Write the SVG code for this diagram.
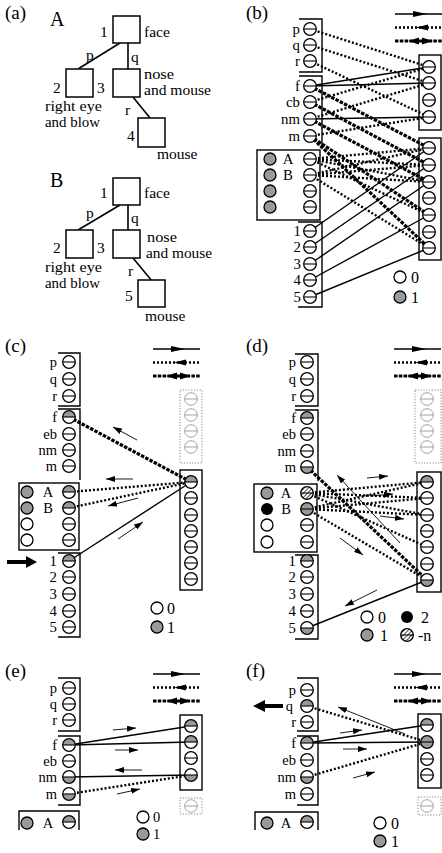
<svg xmlns="http://www.w3.org/2000/svg" width="442" height="853" viewBox="0 0 442 853">
<style>
text{font-family:"Liberation Serif","Times New Roman",serif;fill:#000}
.lb{font-size:15.5px}
.l2{font-size:14.4px}
.pl{font-size:19px}
.big{font-size:20px}
.b{font-size:14.8px}
.s{font-size:14.5px}
.n{font-size:14.8px}
.k{font-size:16px}
.e{text-anchor:end}
.bx{fill:#fff;stroke:#000;stroke-width:1.5}
.br{fill:none;stroke:#000;stroke-width:1.4}
.db{fill:none;stroke:#888;stroke-width:1;stroke-dasharray:1.2 1.6}
.o{fill:none;stroke:#000;stroke-width:1.3}
.fo{fill:none;stroke:#999;stroke-width:0.9}
.ml{stroke:#000;stroke-width:1.1}
.so{stroke:#000;stroke-width:1.4;fill:none}
.dt{stroke:#000;stroke-width:2.4;stroke-dasharray:2 2;fill:none}
.ch{stroke:#000;stroke-width:3.2;stroke-dasharray:3.5 1.3;fill:none}
.ar{stroke:#000;stroke-width:0.9;fill:none;marker-end:url(#ah)}
.ed{stroke:#000;stroke-width:1.6}
.gr{fill:#999}
</style>
<defs>
<marker id="ah" viewBox="0 0 9 6" refX="9" refY="3" markerWidth="9" markerHeight="6" markerUnits="userSpaceOnUse" orient="auto"><path d="M0,0L9,3L0,6z" fill="#000"/></marker>
<pattern id="hat" width="3" height="3" patternUnits="userSpaceOnUse" patternTransform="rotate(45)"><rect width="3" height="3" fill="#fff"/><line x1="0" y1="0" x2="0" y2="3" stroke="#000" stroke-width="1.4"/></pattern>
<g id="u"><circle r="6.3" fill="#fff"/><circle r="6.3" class="o"/><line class="ml" x1="-6.3" x2="6.3" y1="0" y2="0"/></g>
<g id="uT"><circle r="6.3" fill="#fff"/><path d="M-6.3,0A6.3,6.3 0 0 1 6.3,0Z" class="gr"/><circle r="6.3" class="o"/><line class="ml" x1="-6.3" x2="6.3" y1="0" y2="0"/></g>
<g id="uB"><circle r="6.3" fill="#fff"/><path d="M-6.3,0A6.3,6.3 0 0 0 6.3,0Z" class="gr"/><circle r="6.3" class="o"/><line class="ml" x1="-6.3" x2="6.3" y1="0" y2="0"/></g>
<g id="uG"><circle r="6.3" class="gr"/><circle r="6.3" class="o"/><line class="ml" x1="-6.3" x2="6.3" y1="0" y2="0"/></g>
<g id="uH"><circle r="6.3" fill="url(#hat)"/><circle r="6.3" class="o"/><line class="ml" x1="-6.3" x2="6.3" y1="0" y2="0"/></g>
<g id="uF"><circle r="6.3" fill="#fff" class="fo"/><line class="fo" x1="-6.3" x2="6.3" y1="0" y2="0"/></g>
<g id="dG"><circle r="6" class="gr"/><circle r="6" class="o"/></g>
<g id="dW"><circle r="6" fill="#fff"/><circle r="6" class="o"/></g>
<g id="dK"><circle r="6" fill="#000"/></g>
<g id="leg">
<line x1="0" y1="0" x2="47" y2="0" class="so"/><path d="M18,-3L32,0L18,3z"/>
<line x1="0" y1="13.5" x2="47" y2="13.5" class="dt"/><path d="M21,13.5L33,10.5L33,16.5z"/>
<line x1="0" y1="27" x2="47" y2="27" class="ch"/><path d="M13,27L24,23.5L24,30.5z"/><path d="M38,27L27,23.5L27,30.5z"/>
</g>
</defs>

<!-- Panel (a) -->
<g id="panel-a">
<text x="5" y="19" class="pl">(a)</text>
<text x="50" y="26" class="big">A</text>
<g id="a-edges">
<line x1="120" y1="43" x2="78" y2="69" class="ed"/>
<line x1="128" y1="43" x2="128" y2="69" class="ed"/>
<line x1="133" y1="97" x2="150" y2="118" class="ed"/>
<text x="86" y="60" class="lb">p</text>
<text x="131" y="62" class="lb">q</text>
<text x="125" y="115" class="lb">r</text>
</g>
<g id="a-n1"><rect x="113" y="16" width="27" height="27" class="bx"/><text x="100" y="37" class="lb">1</text><text x="144" y="37" class="lb">face</text></g>
<g id="a-n2"><rect x="66" y="69" width="27" height="28" class="bx"/><text x="53" y="93" class="lb">2</text><text x="45" y="111" class="l2" textLength="57" lengthAdjust="spacingAndGlyphs">right eye</text><text x="45" y="127" class="l2" textLength="55" lengthAdjust="spacingAndGlyphs">and blow</text></g>
<g id="a-n3"><rect x="113" y="69" width="27" height="28" class="bx"/><text x="97" y="93" class="lb">3</text><text x="144" y="79" class="l2" textLength="30" lengthAdjust="spacingAndGlyphs">nose</text><text x="144" y="95" class="l2" textLength="67" lengthAdjust="spacingAndGlyphs">and mouse</text></g>
<g id="a-n4"><rect x="138" y="118" width="27" height="29" class="bx"/><text x="127" y="141" class="lb">4</text><text x="157" y="159" class="lb">mouse</text></g>

<text x="50" y="187" class="big">B</text>
<g id="b-edges">
<line x1="120" y1="205" x2="78" y2="230" class="ed"/>
<line x1="128" y1="205" x2="128" y2="230" class="ed"/>
<line x1="133" y1="258" x2="152" y2="281" class="ed"/>
<text x="86" y="218" class="lb">p</text>
<text x="131" y="223" class="lb">q</text>
<text x="128" y="276" class="lb">r</text>
</g>
<g id="bt-n1"><rect x="113" y="178" width="27" height="27" class="bx"/><text x="100" y="198" class="lb">1</text><text x="144" y="198" class="lb">face</text></g>
<g id="bt-n2"><rect x="66" y="230" width="27" height="28" class="bx"/><text x="53" y="253" class="lb">2</text><text x="45" y="272" class="l2" textLength="57" lengthAdjust="spacingAndGlyphs">right eye</text><text x="45" y="288" class="l2" textLength="55" lengthAdjust="spacingAndGlyphs">and blow</text></g>
<g id="bt-n3"><rect x="113" y="230" width="27" height="28" class="bx"/><text x="97" y="253" class="lb">3</text><text x="147" y="242" class="l2" textLength="30" lengthAdjust="spacingAndGlyphs">nose</text><text x="146" y="258" class="l2" textLength="66" lengthAdjust="spacingAndGlyphs">and mouse</text></g>
<g id="bt-n5"><rect x="138" y="280" width="27" height="27" class="bx"/><text x="125" y="301" class="lb">5</text><text x="145" y="321" class="lb">mouse</text></g>
</g>

<!-- Panel (b) -->
<g id="panel-b">
<text x="246" y="19" class="pl">(b)</text>
<use href="#leg" x="395" y="14"/>
<g id="b-conn">
<line x1="310" y1="29" x2="429" y2="67" class="dt"/>
<line x1="310" y1="45" x2="429" y2="83" class="dt"/>
<line x1="310" y1="61" x2="429" y2="117" class="dt"/>
<line x1="310" y1="102" x2="429" y2="67" class="dt"/>
<line x1="310" y1="119" x2="429" y2="83" class="dt"/>
<line x1="310" y1="136" x2="429" y2="117" class="dt"/>
<line x1="310" y1="159" x2="429" y2="148" class="dt"/>
<line x1="310" y1="159" x2="429" y2="165" class="dt"/>
<line x1="310" y1="159" x2="429" y2="182" class="dt"/>
<line x1="310" y1="159" x2="429" y2="215" class="dt"/>
<line x1="310" y1="175" x2="429" y2="148" class="dt"/>
<line x1="310" y1="175" x2="429" y2="165" class="dt"/>
<line x1="310" y1="175" x2="429" y2="182" class="dt"/>
<line x1="310" y1="175" x2="429" y2="248" class="dt"/>
<line x1="310" y1="86" x2="429" y2="67" class="so"/>
<line x1="310" y1="86" x2="429" y2="83" class="so"/>
<line x1="310" y1="119" x2="429" y2="117" class="so"/>
<line x1="310" y1="231" x2="429" y2="148" class="so"/>
<line x1="310" y1="247" x2="429" y2="165" class="so"/>
<line x1="310" y1="264" x2="429" y2="182" class="so"/>
<line x1="310" y1="280" x2="429" y2="215" class="so"/>
<line x1="310" y1="297" x2="429" y2="248" class="so"/>
<line x1="310" y1="86" x2="429" y2="148" class="ch"/>
<line x1="310" y1="102" x2="429" y2="165" class="ch"/>
<line x1="310" y1="119" x2="429" y2="182" class="ch"/>
<line x1="310" y1="136" x2="429" y2="215" class="ch"/>
<line x1="310" y1="136" x2="429" y2="248" class="ch"/>
</g>
<g id="b-pqr">
<path d="M299,19H322V72H299" class="br"/>
<text x="300" y="34" class="b e">p</text><text x="300" y="50" class="b e">q</text><text x="300" y="66" class="b e">r</text>
<use href="#u" x="310" y="29"/><use href="#u" x="310" y="45"/><use href="#u" x="310" y="61"/>
</g>
<g id="b-feat">
<path d="M299,76H322V147" class="br"/>
<text x="300" y="91" class="b e">f</text><text x="300" y="107" class="b e">cb</text><text x="300" y="124" class="b e">nm</text><text x="300" y="141" class="b e">m</text>
<use href="#u" x="310" y="86"/><use href="#u" x="310" y="102"/><use href="#u" x="310" y="119"/><use href="#u" x="310" y="136"/>
</g>
<g id="b-tree">
<rect x="257" y="150" width="63" height="70" class="br"/>
<use href="#dG" x="270" y="159"/><use href="#dG" x="270" y="175"/><use href="#dG" x="270" y="191"/><use href="#dG" x="270" y="207"/>
<text x="288" y="164" class="b" text-anchor="middle">A</text><text x="288" y="180" class="b" text-anchor="middle">B</text>
<use href="#u" x="310" y="159"/><use href="#u" x="310" y="175"/><use href="#u" x="310" y="191"/><use href="#u" x="310" y="207"/>
</g>
<g id="b-num">
<path d="M298,222H322V307H298" class="br"/>
<text x="301" y="236" class="n e">1</text><text x="301" y="252" class="n e">2</text><text x="301" y="269" class="n e">3</text><text x="301" y="285" class="n e">4</text><text x="301" y="302" class="n e">5</text>
<use href="#u" x="310" y="231"/><use href="#u" x="310" y="247"/><use href="#u" x="310" y="264"/><use href="#u" x="310" y="280"/><use href="#u" x="310" y="297"/>
</g>
<g id="b-rel">
<rect x="419" y="55" width="22" height="75" class="br"/>
<use href="#u" x="429" y="67"/><use href="#u" x="429" y="83"/><use href="#u" x="429" y="100"/><use href="#u" x="429" y="117"/>
</g>
<g id="b-hid">
<rect x="419" y="138" width="22" height="122" class="br"/>
<use href="#u" x="429" y="148"/><use href="#u" x="429" y="165"/><use href="#u" x="429" y="182"/><use href="#u" x="429" y="198"/><use href="#u" x="429" y="215"/><use href="#u" x="429" y="232"/><use href="#u" x="429" y="248"/>
</g>
<g id="b-key">
<use href="#dW" x="400" y="277"/><text x="411" y="282.5" class="k">0</text>
<use href="#dG" x="400" y="297"/><text x="411" y="302.5" class="k">1</text>
</g>
</g>

<!-- Panel (c) -->
<g id="panel-c">
<text x="5" y="352" class="pl">(c)</text>
<use href="#leg" x="153" y="349"/>
<g id="c-conn">
<line x1="69" y1="417" x2="191" y2="482" class="ch"/>
<line x1="69" y1="492" x2="191" y2="482" class="dt"/>
<line x1="69" y1="508" x2="191" y2="482" class="dt"/>
<line x1="69" y1="561" x2="191" y2="482" class="so"/>
<line x1="137" y1="440" x2="113" y2="427" class="ar"/>
<line x1="133" y1="479" x2="106" y2="479" class="ar"/>
<line x1="138" y1="498" x2="108" y2="506" class="ar"/>
<line x1="118" y1="539" x2="143" y2="522" class="ar"/>
</g>
<g id="c-pqr">
<path d="M58,353H80V406H58" class="br"/>
<text x="57" y="367" class="s e">p</text><text x="57" y="384" class="s e">q</text><text x="57" y="401" class="s e">r</text>
<use href="#u" x="69" y="362"/><use href="#u" x="69" y="379"/><use href="#u" x="69" y="396"/>
</g>
<g id="c-feat">
<path d="M58,409H80V480" class="br"/>
<text x="57" y="422" class="s e">f</text><text x="57" y="439" class="s e">eb</text><text x="57" y="455" class="s e">nm</text><text x="57" y="471" class="s e">m</text>
<use href="#uT" x="69" y="417"/><use href="#u" x="69" y="434"/><use href="#u" x="69" y="450"/><use href="#u" x="69" y="466"/>
</g>
<g id="c-tree">
<rect x="19" y="483" width="60" height="67" class="br"/>
<use href="#dG" x="27" y="492"/><use href="#dG" x="27" y="508"/><use href="#dW" x="27" y="524"/><use href="#dW" x="27" y="540"/>
<text x="48" y="497" class="s" text-anchor="middle">A</text><text x="48" y="513" class="s" text-anchor="middle">B</text>
<use href="#uT" x="69" y="492"/><use href="#uT" x="69" y="508"/><use href="#u" x="69" y="524"/><use href="#u" x="69" y="540"/>
</g>
<g id="c-num">
<path d="M58,553H80V637H58" class="br"/>
<text x="57" y="566" class="n e">1</text><text x="57" y="582" class="n e">2</text><text x="57" y="599" class="n e">3</text><text x="57" y="616" class="n e">4</text><text x="57" y="632" class="n e">5</text>
<use href="#uT" x="69" y="561"/><use href="#u" x="69" y="577"/><use href="#u" x="69" y="594"/><use href="#u" x="69" y="611"/><use href="#u" x="69" y="627"/>
<path d="M7,560H26V556L37,562L26,568V564H7Z"/>
</g>
<g id="c-rel">
<rect x="180" y="390" width="22" height="73" class="db"/>
<use href="#uF" x="191" y="399"/><use href="#uF" x="191" y="415"/><use href="#uF" x="191" y="431"/><use href="#uF" x="191" y="447"/>
</g>
<g id="c-hid">
<rect x="180" y="470" width="22" height="120" class="br"/>
<use href="#uT" x="191" y="482"/><use href="#u" x="191" y="498"/><use href="#u" x="191" y="515"/><use href="#u" x="191" y="531"/><use href="#u" x="191" y="547"/><use href="#u" x="191" y="563"/><use href="#u" x="191" y="579"/>
</g>
<g id="c-key">
<use href="#dW" x="157" y="608"/><text x="167" y="613.5" class="k">0</text>
<use href="#dG" x="157" y="627"/><text x="167" y="632.5" class="k">1</text>
</g>
</g>

<!-- Panel (d) -->
<g id="panel-d">
<text x="246" y="352" class="pl">(d)</text>
<use href="#leg" x="394" y="349"/>
<g id="d-conn">
<line x1="307" y1="493" x2="427" y2="482" class="dt"/>
<line x1="307" y1="493" x2="427" y2="498" class="dt"/>
<line x1="307" y1="493" x2="427" y2="515" class="dt"/>
<line x1="307" y1="493" x2="427" y2="547" class="dt"/>
<line x1="307" y1="509" x2="427" y2="482" class="dt"/>
<line x1="307" y1="509" x2="427" y2="498" class="dt"/>
<line x1="307" y1="509" x2="427" y2="515" class="dt"/>
<line x1="307" y1="509" x2="427" y2="580" class="dt"/>
<line x1="307" y1="467" x2="427" y2="580" class="ch"/>
<line x1="427" y1="580" x2="307" y2="628" class="so"/>
<line x1="400" y1="543" x2="337" y2="475" class="ar"/>
<line x1="367" y1="478" x2="388" y2="476" class="ar"/>
<line x1="370" y1="496" x2="393" y2="494" class="ar"/>
<line x1="380" y1="516" x2="404" y2="519" class="ar"/>
<line x1="340" y1="538" x2="363" y2="555" class="ar"/>
<line x1="377" y1="590" x2="345" y2="606" class="ar"/>
</g>
<g id="d-pqr">
<path d="M295,354H318V406H295" class="br"/>
<text x="296" y="367" class="s e">p</text><text x="296" y="384" class="s e">q</text><text x="296" y="401" class="s e">r</text>
<use href="#u" x="307" y="362"/><use href="#u" x="307" y="379"/><use href="#u" x="307" y="396"/>
</g>
<g id="d-feat">
<path d="M295,410H318V481" class="br"/>
<text x="296" y="423" class="s e">f</text><text x="296" y="439" class="s e">eb</text><text x="296" y="456" class="s e">nm</text><text x="296" y="472" class="s e">m</text>
<use href="#uT" x="307" y="418"/><use href="#u" x="307" y="434"/><use href="#u" x="307" y="451"/><use href="#uB" x="307" y="467"/>
</g>
<g id="d-tree">
<rect x="254" y="484" width="63" height="68" class="br"/>
<use href="#dG" x="267" y="493"/><use href="#dK" x="267" y="509"/><use href="#dW" x="267" y="525"/><use href="#dW" x="267" y="542"/>
<text x="286" y="498" class="s" text-anchor="middle">A</text><text x="286" y="514" class="s" text-anchor="middle">B</text>
<use href="#uH" x="307" y="493"/><use href="#uG" x="307" y="509"/><use href="#u" x="307" y="525"/><use href="#u" x="307" y="542"/>
</g>
<g id="d-num">
<path d="M295,555H318V639H295" class="br"/>
<text x="296" y="566" class="n e">1</text><text x="296" y="582" class="n e">2</text><text x="296" y="599" class="n e">3</text><text x="296" y="616" class="n e">4</text><text x="296" y="633" class="n e">5</text>
<use href="#uT" x="307" y="561"/><use href="#u" x="307" y="577"/><use href="#u" x="307" y="594"/><use href="#u" x="307" y="611"/><use href="#uB" x="307" y="628"/>
</g>
<g id="d-rel">
<rect x="415" y="390" width="26" height="73" class="db"/>
<use href="#uF" x="427" y="399"/><use href="#uF" x="427" y="415"/><use href="#uF" x="427" y="431"/><use href="#uF" x="427" y="447"/>
</g>
<g id="d-hid">
<rect x="417" y="472" width="24" height="120" class="br"/>
<use href="#uT" x="427" y="482"/><use href="#u" x="427" y="498"/><use href="#u" x="427" y="515"/><use href="#u" x="427" y="531"/><use href="#u" x="427" y="547"/><use href="#u" x="427" y="564"/><use href="#uB" x="427" y="580"/>
</g>
<g id="d-key">
<use href="#dW" x="367" y="617"/><text x="378" y="622.5" class="k">0</text>
<use href="#dK" x="407" y="617"/><text x="421" y="622.5" class="k">2</text>
<use href="#dG" x="367" y="635"/><text x="380" y="640.5" class="k">1</text>
<use href="#uH" x="407" y="635"/><text x="418" y="640.5" class="k">-n</text>
</g>
</g>

<!-- Panel (e) -->
<g id="panel-e">
<text x="5" y="677" class="pl">(e)</text>
<use href="#leg" x="153" y="674"/>
<g id="e-conn">
<line x1="69" y1="745" x2="191" y2="726" class="so"/>
<line x1="69" y1="745" x2="191" y2="742" class="so"/>
<line x1="69" y1="777" x2="191" y2="775" class="so"/>
<line x1="69" y1="794" x2="191" y2="775" class="dt"/>
<line x1="113" y1="730" x2="136" y2="728" class="ar"/>
<line x1="115" y1="750" x2="138" y2="750" class="ar"/>
<line x1="142" y1="770" x2="115" y2="770" class="ar"/>
<line x1="117" y1="794" x2="140" y2="789" class="ar"/>
</g>
<g id="e-pqr">
<path d="M58,678H80V731H58" class="br"/>
<text x="57" y="693" class="s e">p</text><text x="57" y="709" class="s e">q</text><text x="57" y="725" class="s e">r</text>
<use href="#u" x="69" y="688"/><use href="#u" x="69" y="704"/><use href="#u" x="69" y="720"/>
</g>
<g id="e-feat">
<path d="M58,736H80V805H58" class="br"/>
<text x="57" y="750" class="s e">f</text><text x="57" y="766" class="s e">eb</text><text x="57" y="782" class="s e">nm</text><text x="57" y="799" class="s e">m</text>
<use href="#uT" x="69" y="745"/><use href="#u" x="69" y="761"/><use href="#uB" x="69" y="777"/><use href="#uB" x="69" y="794"/>
</g>
<g id="e-tree">
<path d="M19,830V811H79V830" class="br"/>
<use href="#dG" x="27" y="823"/><text x="48" y="828" class="s" text-anchor="middle">A</text><use href="#uT" x="69" y="822"/>
</g>
<g id="e-rel">
<rect x="180" y="715" width="22" height="75" class="br"/>
<use href="#uT" x="191" y="726"/><use href="#uT" x="191" y="742"/><use href="#u" x="191" y="758"/><use href="#uB" x="191" y="775"/>
</g>
<g id="e-hid">
<rect x="180" y="798" width="22" height="16" class="db"/><use href="#uF" x="191" y="806"/>
</g>
<g id="e-key">
<use href="#dW" x="143" y="817"/><text x="153" y="822" class="s">0</text>
<use href="#dG" x="143" y="834"/><text x="153" y="839" class="s">1</text>
</g>
</g>

<!-- Panel (f) -->
<g id="panel-f">
<text x="246" y="677" class="pl">(f)</text>
<use href="#leg" x="394" y="674"/>
<g id="f-conn">
<line x1="307" y1="706" x2="427" y2="742" class="dt"/>
<line x1="307" y1="743" x2="427" y2="725" class="so"/>
<line x1="307" y1="743" x2="427" y2="742" class="so"/>
<line x1="307" y1="777" x2="427" y2="742" class="dt"/>
<line x1="405" y1="734" x2="338" y2="707" class="ar"/>
<line x1="340" y1="733" x2="362" y2="730" class="ar"/>
<line x1="343" y1="749" x2="367" y2="749" class="ar"/>
<line x1="353" y1="778" x2="375" y2="772" class="ar"/>
</g>
<g id="f-pqr">
<path d="M297,678H318V731H297" class="br"/>
<text x="296" y="695" class="s e">p</text><text x="293" y="711" class="s e">q</text><text x="296" y="727" class="s e">r</text>
<use href="#u" x="307" y="690"/><use href="#uT" x="307" y="706"/><use href="#u" x="307" y="722"/>
<path d="M253,706L265,700V704H283V708H265V712Z"/>
</g>
<g id="f-feat">
<path d="M297,736H318V805H297" class="br"/>
<text x="296" y="748" class="s e">f</text><text x="296" y="765" class="s e">eb</text><text x="296" y="782" class="s e">nm</text><text x="296" y="799" class="s e">m</text>
<use href="#uT" x="307" y="743"/><use href="#u" x="307" y="760"/><use href="#uB" x="307" y="777"/><use href="#u" x="307" y="794"/>
</g>
<g id="f-tree">
<path d="M255,830V812H318V830" class="br"/>
<use href="#dG" x="267" y="823"/><text x="286" y="828" class="s" text-anchor="middle">A</text><use href="#uT" x="307" y="822"/>
</g>
<g id="f-rel">
<rect x="418" y="714" width="23" height="74" class="br"/>
<use href="#uT" x="427" y="725"/><use href="#uG" x="427" y="742"/><use href="#u" x="427" y="759"/><use href="#u" x="427" y="775"/>
</g>
<g id="f-hid">
<rect x="418" y="797" width="23" height="18" class="db"/><use href="#uF" x="427" y="806"/>
</g>
<g id="f-key">
<use href="#dW" x="380" y="823"/><text x="391" y="828.5" class="k">0</text>
<use href="#dG" x="380" y="841"/><text x="391" y="846.5" class="k">1</text>
</g>
</g>
</svg>
